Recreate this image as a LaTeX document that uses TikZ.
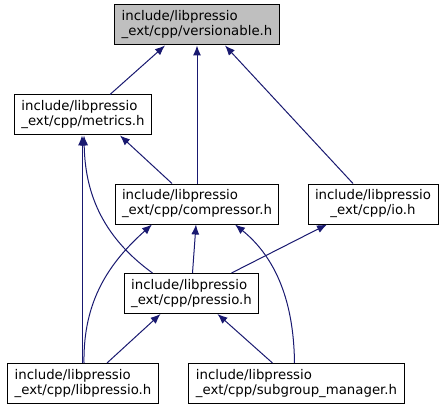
\documentclass[tikz,border=0pt]{standalone}
\usepackage{fontspec}
\setmainfont{DejaVu Sans}
\usepackage{xcolor}
\usetikzlibrary{arrows.meta,calc}
\definecolor{edgeblue}{HTML}{191970}
\definecolor{curfill}{HTML}{BFBFBF}
\tikzset{>={Latex[length=10pt,width=8pt]}}
\tikzset{filebox/.style={draw=black,line width=1pt,align=left,inner xsep=7pt,inner ysep=4pt,minimum height=40pt,font=\fontsize{13.3}{15}\selectfont}}
\tikzset{incl/.style={->,draw=edgeblue,line width=1pt}}

\begin{document}
\begin{tikzpicture}[x=1pt,y=-1pt]
  \useasboundingbox (0,0) rectangle (447,409);

  % Files
  \node[filebox,fill=curfill] (versionable) at (197,25) {include/libpressio\\\_ext/cpp/versionable.h};
  \node[filebox] (metrics) at (83,115) {include/libpressio\\\_ext/cpp/metrics.h};
  \node[filebox] (compressor) at (197,204) {include/libpressio\\\_ext/cpp/compressor.h};
  \node[filebox,align=center] (io) at (373,204) {include/libpressio\\\_ext/cpp/io.h};
  \node[filebox] (pressio) at (191.5,293.5) {include/libpressio\\\_ext/cpp/pressio.h};
  \node[filebox] (libpressio) at (83,383.5) {include/libpressio\\\_ext/cpp/libpressio.h};
  \node[filebox] (subgroup) at (296.5,383.5) {include/libpressio\\\_ext/cpp/subgroup\_manager.h};

  % Includes of versionable.h
  \draw[incl] ([xshift=27pt]metrics.north) -- ([xshift=-32pt]versionable.south);
  \draw[incl] (compressor.north) -- (versionable.south);
  \draw[incl] ([xshift=-20pt]io.north) -- ([xshift=28pt]versionable.south);

  % Includes of metrics.h
  \draw[incl] ([xshift=-25pt]compressor.north) -- ([xshift=37pt]metrics.south);
  \draw[incl] ([xshift=-39pt]pressio.north) .. controls (100,235) and (85,190) .. ([xshift=1pt]metrics.south);
  \draw[incl] ([xshift=-1pt]libpressio.north) -- ([xshift=-1pt]metrics.south);

  % Includes of compressor.h
  \draw[incl] ([xshift=1pt]pressio.north) -- ([xshift=-1pt]compressor.south);
  \draw[incl] ([xshift=1pt]libpressio.north) .. controls (83,300) and (110,262) .. ([xshift=-45pt]compressor.south);
  \draw[incl] ([xshift=-2pt]subgroup.north) .. controls (294,320) and (285,265) .. ([xshift=38pt]compressor.south);

  % Includes of io.h
  \draw[incl] ([xshift=40pt]pressio.north) -- ([xshift=-46pt]io.south);

  % Includes of pressio.h
  \draw[incl] ([xshift=24pt]libpressio.north) -- ([xshift=-31pt]pressio.south);
  \draw[incl] ([xshift=-24pt]subgroup.north) -- ([xshift=26pt]pressio.south);

\end{tikzpicture}
\end{document}
